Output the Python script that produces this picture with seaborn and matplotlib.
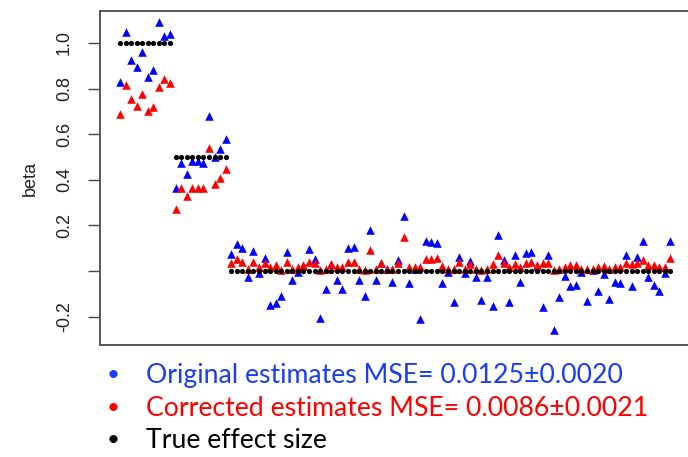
import numpy as np
import pandas as pd
import matplotlib
matplotlib.use("Agg")
import matplotlib.pyplot as plt
import seaborn as sns

# ---- data ----
original = [
    0.83, 1.05, 0.925, 0.895, 0.96, 0.85, 0.88, 1.09, 1.03, 1.04,
    0.363, 0.472, 0.425, 0.484, 0.484, 0.472, 0.68, 0.50, 0.534, 0.578,
    0.075, 0.117, 0.10, -0.028, 0.089, -0.007, 0.056, -0.149, -0.139, -0.108,
    0.083, -0.042, -0.006, 0.02, 0.095, 0.053, -0.208, -0.08, 0.03, -0.039,
    -0.08, 0.10, 0.107, -0.039, -0.108, 0.18, -0.039, 0.036, 0.01, -0.05,
    0.048, 0.241, -0.054, 0.01, -0.212, 0.133, 0.126, 0.121, -0.051, -0.003,
    -0.135, 0.06, -0.007, 0.044, -0.025, -0.127, -0.025, -0.156, 0.158, 0.048,
    -0.135, 0.07, -0.047, 0.08, 0.085, 0.02, -0.16, 0.07, -0.259, -0.116,
    -0.022, -0.066, -0.061, -0.003, -0.13, 0.005, -0.09, -0.013, -0.124, -0.047,
    -0.054, 0.07, -0.066, 0.063, 0.129, -0.028, -0.06, -0.086, -0.007, 0.129,
]
corrected = [
    0.69, 0.815, 0.755, 0.725, 0.775, 0.70, 0.72, 0.805, 0.84, 0.825,
    0.27, 0.363, 0.329, 0.363, 0.363, 0.363, 0.538, 0.382, 0.407, 0.446,
    0.036, 0.051, 0.04, 0.01, 0.038, 0.017, 0.036, 0.017, 0.025, 0.006,
    0.038, 0.01, 0.017, 0.025, 0.038, 0.036, 0.003, 0.01, 0.032, 0.017,
    0.017, 0.038, 0.04, 0.01, 0.006, 0.09, 0.01, 0.034, 0.01, 0.01,
    0.034, 0.15, 0.017, 0.017, 0.017, 0.051, 0.054, 0.058, 0.022, 0.01,
    0.01, 0.038, 0.01, 0.03, 0.01, 0.003, 0.01, 0.032, 0.07, 0.036,
    0.017, 0.032, 0.017, 0.036, 0.038, 0.025, 0.036, 0.036, 0.003, 0.01,
    0.017, 0.025, 0.025, 0.01, 0.01, 0.01, 0.017, 0.02, 0.01, 0.017,
    0.017, 0.036, 0.03, 0.036, 0.05, 0.025, 0.025, 0.017, 0.017, 0.056,
]
true_effect = [
    1.0, 1.0, 1.0, 1.0, 1.0, 1.0, 1.0, 1.0, 1.0, 1.0,
    0.5, 0.5, 0.5, 0.5, 0.5, 0.5, 0.5, 0.5, 0.5, 0.5,
    0.0, 0.0, 0.0, 0.0, 0.0, 0.0, 0.0, 0.0, 0.0, 0.0,
    0.0, 0.0, 0.0, 0.0, 0.0, 0.0, 0.0, 0.0, 0.0, 0.0,
    0.0, 0.0, 0.0, 0.0, 0.0, 0.0, 0.0, 0.0, 0.0, 0.0,
    0.0, 0.0, 0.0, 0.0, 0.0, 0.0, 0.0, 0.0, 0.0, 0.0,
    0.0, 0.0, 0.0, 0.0, 0.0, 0.0, 0.0, 0.0, 0.0, 0.0,
    0.0, 0.0, 0.0, 0.0, 0.0, 0.0, 0.0, 0.0, 0.0, 0.0,
    0.0, 0.0, 0.0, 0.0, 0.0, 0.0, 0.0, 0.0, 0.0, 0.0,
    0.0, 0.0, 0.0, 0.0, 0.0, 0.0, 0.0, 0.0, 0.0, 0.0,
]
ytick_values = [-0.2, 0.0, 0.2, 0.4, 0.6, 0.8, 1.0]
ytick_labels = ["-0.2", "", "0.2", "0.4", "0.6", "0.8", "1.0"]
legend_texts = [
    "Original estimates MSE= 0.0125\u00b10.0020",
    "Corrected estimates MSE= 0.0086\u00b10.0021",
    "True effect size",
]

idx = np.arange(1, len(original) + 1)
df = pd.DataFrame({"index": idx, "original": original,
                   "corrected": corrected, "true": true_effect})

sns.set_style("white")
plt.rcParams["font.family"] = ["Liberation Sans", "DejaVu Sans"]

W, H = 688, 457
fig = plt.figure(figsize=(W / 100, H / 100), dpi=100)
ax = fig.add_axes([100 / W, (H - 345) / H, (693 - 100) / W, (345 - 11) / H])

sns.scatterplot(data=df, x="index", y="original", ax=ax, color="#0000FF",
                marker="^", s=38, linewidth=0, zorder=2)
sns.scatterplot(data=df, x="index", y="corrected", ax=ax, color="#FF0000",
                marker="^", s=38, linewidth=0, zorder=3)
sns.scatterplot(data=df, x="index", y="true", ax=ax, color="black",
                marker="o", s=14, linewidth=0, zorder=4)

ax.set_xlim(-2.6, 104.06)
ax.set_ylim(-0.325, 1.14)
ax.set_xticks([])
ax.set_xlabel("")
ax.set_yticks(ytick_values)
ax.set_yticklabels(ytick_labels, rotation=90, va="center", fontsize=13,
                   color="#222222")
ax.tick_params(axis="y", direction="out", length=8.6, width=1.0,
               color="#444444", pad=11, left=True)
ax.set_ylabel("beta", fontsize=13, color="#222222", labelpad=12)
for sp in ax.spines.values():
    sp.set_visible(True)
    sp.set_color("#555555")
    sp.set_linewidth(1.4)

colors = ["#1A3CF5", "#FF0000", "#000000"]
ys = [375, 408, 440]
for txt, c, y in zip(legend_texts, colors, ys):
    fig.text(113 / W, 1 - y / H, "\u2022", color=c, fontsize=16,
             ha="center", va="center", family=["Lato", "DejaVu Sans"])
    fig.text(146 / W, 1 - y / H, txt, color=c, fontsize=19.2,
             ha="left", va="center", family=["Lato", "DejaVu Sans"])

fig.savefig("out.png", dpi=100)
